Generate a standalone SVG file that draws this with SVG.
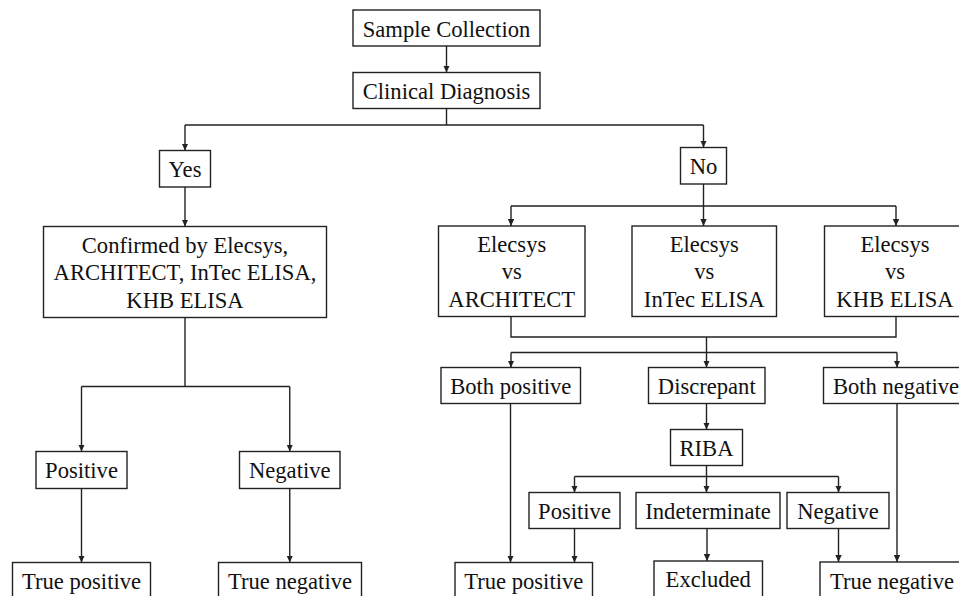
<svg xmlns="http://www.w3.org/2000/svg" width="959" height="596" viewBox="0 0 959 596">
<defs>
<style>
.box{fill:#fff;stroke:#222;stroke-width:1.4}
.t{font-family:"Liberation Serif","Times New Roman",serif;font-size:22.6px;fill:#111;text-anchor:middle}
.c{fill:none;stroke:#222;stroke-width:1.4}
.a{fill:none;stroke:#222;stroke-width:1.4;marker-end:url(#ah)}
</style>
<marker id="ah" markerUnits="userSpaceOnUse" markerWidth="8" markerHeight="7" refX="7" refY="3.2" orient="auto">
<path d="M0,0 L7,3.2 L0,6.4 z" fill="#222"/>
</marker>
</defs>
<rect width="959" height="596" fill="#fff"/>
<g id="connectors">
<path class="a" d="M446.5,46 V72.5"/>
<path class="c" d="M446.5,108.5 V125 M185,125 H703.5"/>
<path class="a" d="M185,125 V150.5"/>
<path class="a" d="M703.5,125 V147.5"/>
<path class="a" d="M185,187 V226.5"/>
<path class="c" d="M185,317.5 V386.5 M81.5,386.5 H289.75"/>
<path class="a" d="M81.5,386.5 V451.5"/>
<path class="a" d="M289.75,386.5 V451.5"/>
<path class="a" d="M81.5,488.5 V562.5"/>
<path class="a" d="M289.75,488.5 V562.5"/>
<path class="c" d="M703.5,184 V206 M511,206 H896"/>
<path class="a" d="M511,206 V226"/>
<path class="a" d="M703.5,206 V226"/>
<path class="a" d="M896,206 V226"/>
<path class="c" d="M511,316.5 V337 H896 V316.5 M706.5,337 V352.5 M511,352.5 H897"/>
<path class="a" d="M511,352.5 V367.5"/>
<path class="a" d="M706.5,352.5 V367.5"/>
<path class="a" d="M897,352.5 V367.5"/>
<path class="a" d="M706.5,403.5 V429.5"/>
<path class="c" d="M706.5,465.5 V476.5 M574.5,476.5 H838.5"/>
<path class="a" d="M574.5,476.5 V492.5"/>
<path class="a" d="M706.5,476.5 V492.5"/>
<path class="a" d="M838.5,476.5 V492.5"/>
<path class="a" d="M510.5,403.5 V562.5"/>
<path class="a" d="M574.5,528.5 V562.5"/>
<path class="a" d="M707,528.5 V561"/>
<path class="a" d="M838.5,528.5 V562"/>
<path class="a" d="M897,403.5 V562"/>
</g>
<g id="sample"><rect class="box" x="353" y="10" width="187" height="36"/><text class="t" x="446.5" y="36.5">Sample Collection</text></g>
<g id="clinical"><rect class="box" x="353" y="72.5" width="187" height="36"/><text class="t" x="446.5" y="98.5">Clinical Diagnosis</text></g>
<g id="yes"><rect class="box" x="159.5" y="150.5" width="51" height="36.5"/><text class="t" x="185" y="177">Yes</text></g>
<g id="no"><rect class="box" x="680.5" y="147.5" width="46" height="36.5"/><text class="t" x="703.5" y="174">No</text></g>
<g id="confirmed"><rect class="box" x="43.5" y="226.5" width="283" height="91"/><text class="t" x="185" y="252.5">Confirmed by Elecsys,</text><text class="t" x="185" y="280">ARCHITECT, InTec ELISA,</text><text class="t" x="185" y="307.5">KHB ELISA</text></g>
<g id="pos-left"><rect class="box" x="36" y="451.5" width="91" height="37"/><text class="t" x="81.5" y="478">Positive</text></g>
<g id="neg-left"><rect class="box" x="239.5" y="451.5" width="100.5" height="37"/><text class="t" x="289.75" y="478">Negative</text></g>
<g id="tp-left"><rect class="box" x="12.5" y="562.5" width="138" height="40"/><text class="t" x="81.5" y="588.5">True positive</text></g>
<g id="tn-left"><rect class="box" x="218.5" y="562.5" width="143" height="40"/><text class="t" x="290" y="588.5">True negative</text></g>
<g id="e-arch"><rect class="box" x="438.5" y="226" width="146.5" height="90.5"/><text class="t" x="511.75" y="251.7">Elecsys</text><text class="t" x="511.75" y="279.3">vs</text><text class="t" x="511.75" y="306.8">ARCHITECT</text></g>
<g id="e-intec"><rect class="box" x="632" y="226" width="144.5" height="90.5"/><text class="t" x="704.25" y="251.7">Elecsys</text><text class="t" x="704.25" y="279.3">vs</text><text class="t" x="704.25" y="306.8">InTec ELISA</text></g>
<g id="e-khb"><rect class="box" x="824.5" y="226" width="142" height="90.5"/><text class="t" x="895" y="251.7">Elecsys</text><text class="t" x="895" y="279.3">vs</text><text class="t" x="895" y="306.8">KHB ELISA</text></g>
<g id="both-pos"><rect class="box" x="441" y="367.5" width="139.5" height="36"/><text class="t" x="510.75" y="393.5">Both positive</text></g>
<g id="discrepant"><rect class="box" x="648.5" y="367.5" width="116.5" height="36"/><text class="t" x="706.75" y="393.5">Discrepant</text></g>
<g id="both-neg"><rect class="box" x="823.5" y="367.5" width="146" height="36"/><text class="t" x="896" y="393.5">Both negative</text></g>
<g id="riba"><rect class="box" x="670.5" y="429.5" width="72" height="36"/><text class="t" x="706.5" y="455.5">RIBA</text></g>
<g id="pos-right"><rect class="box" x="529" y="492.5" width="91" height="36"/><text class="t" x="574.5" y="518.5">Positive</text></g>
<g id="indeterminate"><rect class="box" x="636" y="492.5" width="144" height="36"/><text class="t" x="708" y="518.5">Indeterminate</text></g>
<g id="neg-right"><rect class="box" x="787" y="492.5" width="102" height="36"/><text class="t" x="838" y="518.5">Negative</text></g>
<g id="tp-right"><rect class="box" x="455" y="562.5" width="137.5" height="40"/><text class="t" x="523.75" y="588.5">True positive</text></g>
<g id="excluded"><rect class="box" x="654" y="561" width="108.5" height="42"/><text class="t" x="708.25" y="586.5">Excluded</text></g>
<g id="tn-right"><rect class="box" x="820" y="562" width="144" height="40"/><text class="t" x="892" y="588.5">True negative</text></g>
</svg>
